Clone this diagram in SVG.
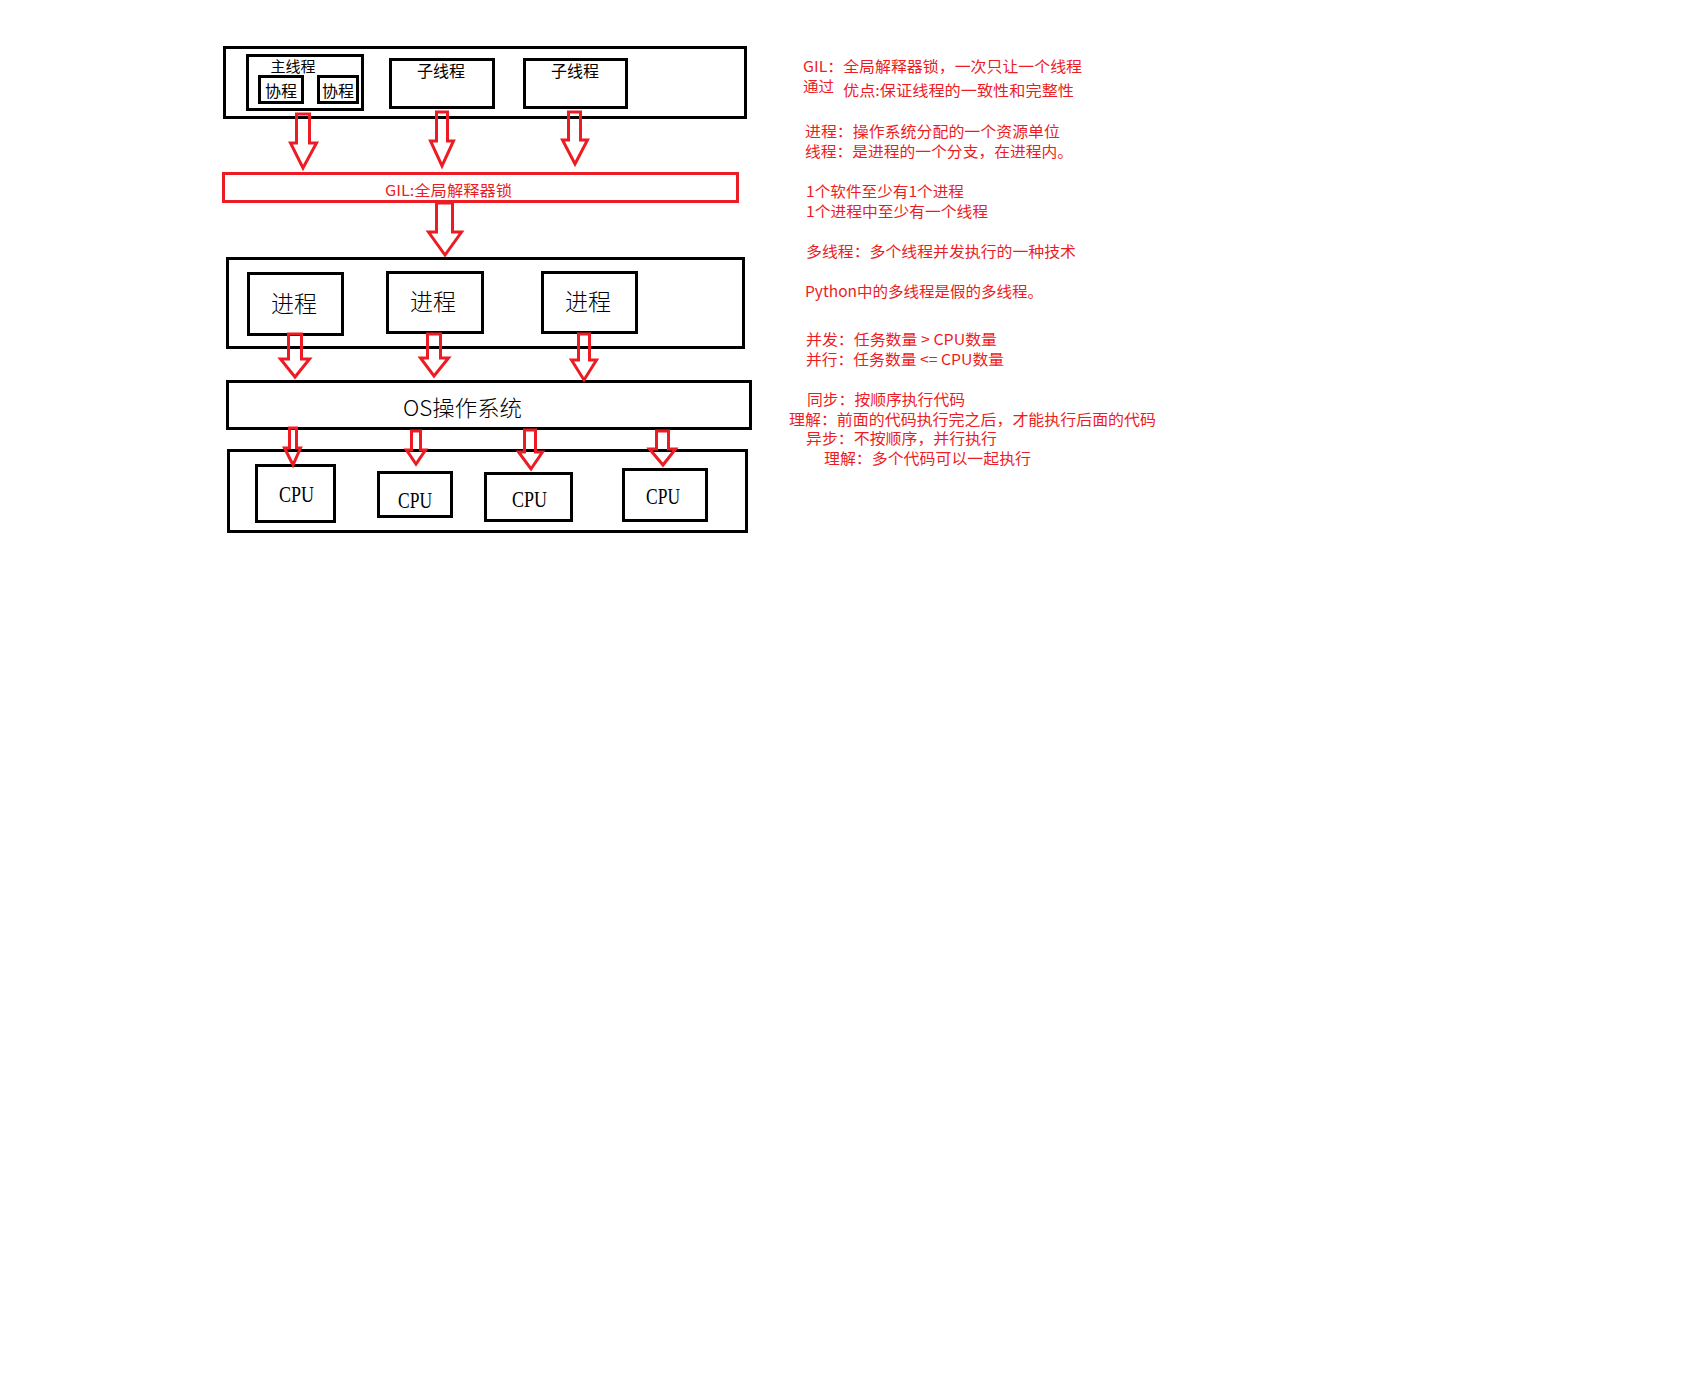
<svg xmlns="http://www.w3.org/2000/svg" width="1690" height="1384" viewBox="0 0 1690 1384">
<style>
.box{fill:none;stroke:#000;stroke-width:3}
.rbox{fill:none;stroke:#ED1C24;stroke-width:3}
.arr{fill:none;stroke:#ED1C24;stroke-width:3;stroke-linejoin:miter}
.t{font-family:"Noto Sans CJK SC","Liberation Sans",sans-serif;fill:#000}
.cpu{font-family:"Liberation Serif",serif;font-size:24px;fill:#000}
.note{font-family:"Noto Sans CJK SC","Liberation Sans",sans-serif;font-size:15px;fill:#ED1C24}
</style>
<rect width="1690" height="1384" fill="#fff"/>
<g id="threads-container"><rect class="box" x="224.5" y="47.5" width="521" height="70"/></g>
<g id="main-thread"><rect class="box" x="247.5" y="55.5" width="115" height="54"/><text class="t" x="293" y="72" font-size="15" text-anchor="middle">主线程</text></g>
<g id="coroutine-1"><rect class="box" x="259.5" y="76.5" width="43" height="26"/><text class="t" x="281" y="97" font-size="16" text-anchor="middle">协程</text></g>
<g id="coroutine-2"><rect class="box" x="318.5" y="76.5" width="39" height="26"/><text class="t" x="338" y="97" font-size="16" text-anchor="middle">协程</text></g>
<g id="sub-thread-1"><rect class="box" x="390.5" y="59.5" width="103" height="48"/><text class="t" x="441" y="77" font-size="16" text-anchor="middle">子线程</text></g>
<g id="sub-thread-2"><rect class="box" x="524.5" y="59.5" width="102" height="48"/><text class="t" x="575" y="77" font-size="16" text-anchor="middle">子线程</text></g>
<g id="gil"><rect class="rbox" x="223.5" y="173.5" width="514" height="28"/><text class="t" x="385" y="196" font-size="15" style="fill:#ED1C24" textLength="127" lengthAdjust="spacingAndGlyphs">GIL:全局解释器锁</text></g>
<g id="process-container"><rect class="box" x="227.5" y="258.5" width="516" height="89"/></g>
<g id="process-1"><rect class="box" x="248.5" y="273.5" width="94" height="61"/><text class="t" x="294" y="312" font-size="23" font-weight="300" text-anchor="middle">进程</text></g>
<g id="process-2"><rect class="box" x="387.5" y="272.5" width="95" height="60"/><text class="t" x="433" y="310" font-size="23" font-weight="300" text-anchor="middle">进程</text></g>
<g id="process-3"><rect class="box" x="542.5" y="272.5" width="94" height="60"/><text class="t" x="588" y="310" font-size="23" font-weight="300" text-anchor="middle">进程</text></g>
<g id="os"><rect class="box" x="227.5" y="381.5" width="523" height="47"/><text class="t" x="403" y="416" font-size="22" font-weight="300" textLength="119" lengthAdjust="spacingAndGlyphs">OS操作系统</text></g>
<g id="cpu-container"><rect class="box" x="228.5" y="450.5" width="518" height="81"/></g>
<g id="cpu-1"><rect class="box" x="256.5" y="465.5" width="78" height="56"/><text class="cpu" x="279" y="502" textLength="35" lengthAdjust="spacingAndGlyphs">CPU</text></g>
<g id="cpu-2"><rect class="box" x="378.5" y="472.5" width="73" height="44"/><text class="cpu" x="398" y="508" textLength="34" lengthAdjust="spacingAndGlyphs">CPU</text></g>
<g id="cpu-3"><rect class="box" x="485.5" y="473.5" width="86" height="47"/><text class="cpu" x="512" y="507" textLength="35" lengthAdjust="spacingAndGlyphs">CPU</text></g>
<g id="cpu-4"><rect class="box" x="623.5" y="469.5" width="83" height="51"/><text class="cpu" x="646" y="504" textLength="34" lengthAdjust="spacingAndGlyphs">CPU</text></g>
<g id="connectors">
<path class="arr" d="M296.5,114 H309.5 V143 H316.5 L303,168 L290.5,143 H296.5 Z"/>
<path class="arr" d="M436.5,112 H447.5 V141 H453.5 L442,166 L430.5,141 H436.5 Z"/>
<path class="arr" d="M568.5,112 H580.5 V140 H587.5 L575,164 L562.5,140 H568.5 Z"/>
<path class="arr" d="M436.5,203 H452.5 V232 H461.5 L445,255 L428.5,232 H436.5 Z"/>
<path class="arr" d="M288.5,334 H301.5 V359 H309.5 L295,377 L280.5,359 H288.5 Z"/>
<path class="arr" d="M427.5,334 H440.5 V358 H448.5 L434,376 L420.5,358 H427.5 Z"/>
<path class="arr" d="M578.5,334 H589.5 V360 H596.5 L584,380 L571.5,360 H578.5 Z"/>
<path class="arr" d="M289.5,428 H296.5 V448 H300.5 L293,465 L284.5,448 H289.5 Z"/>
<path class="arr" d="M411.5,431 H420.5 V450 H425.5 L416,464 L406.5,450 H411.5 Z"/>
<path class="arr" d="M524.5,430 H535.5 V452 H542.5 L531,469 L518.5,452 H524.5 Z"/>
<path class="arr" d="M656.5,431 H668.5 V449 H675.5 L663,465 L649.5,449 H656.5 Z"/>
</g>
<g id="notes">
<text class="note" x="803" y="72" textLength="279" lengthAdjust="spacingAndGlyphs">GIL：全局解释器锁，一次只让一个线程</text>
<text class="note" x="803" y="92" textLength="31" lengthAdjust="spacingAndGlyphs">通过</text>
<text class="note" x="843" y="95.5" textLength="231" lengthAdjust="spacingAndGlyphs">优点:保证线程的一致性和完整性</text>
<text class="note" x="805" y="137" textLength="255" lengthAdjust="spacingAndGlyphs">进程：操作系统分配的一个资源单位</text>
<text class="note" x="805" y="157" textLength="268" lengthAdjust="spacingAndGlyphs">线程：是进程的一个分支，在进程内。</text>
<text class="note" x="806" y="197" textLength="158" lengthAdjust="spacingAndGlyphs">1个软件至少有1个进程</text>
<text class="note" x="806" y="217" textLength="182" lengthAdjust="spacingAndGlyphs">1个进程中至少有一个线程</text>
<text class="note" x="806" y="257" textLength="270" lengthAdjust="spacingAndGlyphs">多线程：多个线程并发执行的一种技术</text>
<text class="note" x="805" y="297" textLength="238" lengthAdjust="spacingAndGlyphs">Python中的多线程是假的多线程。</text>
<text class="note" x="806" y="345" textLength="191" lengthAdjust="spacingAndGlyphs">并发：任务数量 &gt; CPU数量</text>
<text class="note" x="806" y="365" textLength="198" lengthAdjust="spacingAndGlyphs">并行：任务数量 &lt;= CPU数量</text>
<text class="note" x="807" y="405" textLength="158" lengthAdjust="spacingAndGlyphs">同步：按顺序执行代码</text>
<text class="note" x="789" y="425" textLength="367" lengthAdjust="spacingAndGlyphs">理解：前面的代码执行完之后，才能执行后面的代码</text>
<text class="note" x="806" y="444" textLength="191" lengthAdjust="spacingAndGlyphs">异步：不按顺序，并行执行</text>
<text class="note" x="824" y="464" textLength="207" lengthAdjust="spacingAndGlyphs">理解：多个代码可以一起执行</text>
</g>
</svg>
